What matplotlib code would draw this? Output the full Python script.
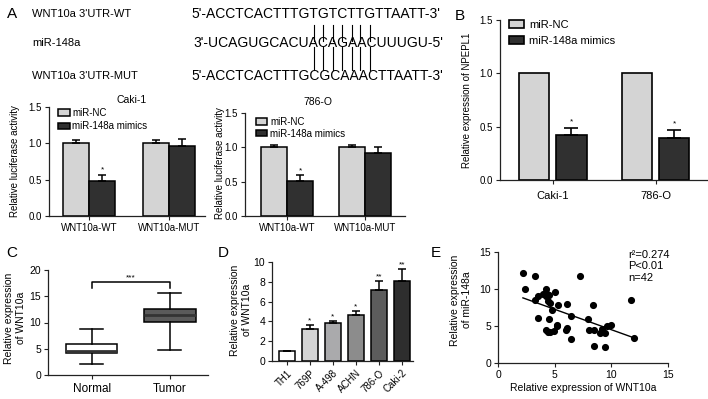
import numpy as np
import matplotlib
matplotlib.use("Agg")
import matplotlib.pyplot as plt

plt.rcParams['font.family'] = ['Liberation Sans', 'DejaVu Sans']

W, H = 708, 399

### Data ###
seq_labels = ["WNT10a 3'UTR-WT", "miR-148a", "WNT10a 3'UTR-MUT"]
seq_texts = ["5'-ACCTCACTTTGTGTCTTGTTAATT-3'",
             "3'-UCAGUGCACUACAGAACUUUGU-5'",
             "5'-ACCTCACTTTGCGCAAACTTAATT-3'"]
pair_first = 14  # first paired base in the UTR strings
mir_first = 13   # first paired base in the miRNA string
n_pairs = 7

luc_groups = ["WNT10a-WT", "WNT10a-MUT"]
caki_nc = [1.0, 1.0]
caki_nc_err = [0.05, 0.05]
caki_mim = [0.48, 0.97]
caki_mim_err = [0.08, 0.09]
o786_nc = [1.0, 1.0]
o786_nc_err = [0.04, 0.04]
o786_mim = [0.51, 0.92]
o786_mim_err = [0.08, 0.09]
luc_stars = ["*", ""]

npepl_cells = ["Caki-1", "786-O"]
npepl_nc = [1.0, 1.0]
npepl_mim = [0.42, 0.39]
npepl_mim_err = [0.07, 0.08]
npepl_stars = ["*", "*"]

box_groups = ["Normal", "Tumor"]
box_lo = [2.1, 4.8]
box_q1 = [4.2, 10.1]
box_med = [4.5, 11.4]
box_q3 = [5.9, 12.6]
box_hi = [8.8, 15.6]

cell_lines = ["TH1", "769P", "A-498", "ACHN", "786-O", "Caki-2"]
cell_expr = [1.0, 3.27, 3.8, 4.65, 7.2, 8.05]
cell_err = [0.0, 0.33, 0.27, 0.4, 0.9, 1.28]
cell_stars = ["", "*", "*", "*", "**", "**"]
cell_colors = ["#ffffff", "#d4d4d4", "#aaaaac", "#8c8c8c", "#5c5c5c", "#2e2e2e"]

wnt_x = [2.2, 3.3, 7.2, 2.4, 4.2, 5.0, 3.5, 3.3, 4.0, 4.3, 4.2, 4.5, 4.4, 4.6,
         5.3, 6.1, 4.8, 8.4, 11.7, 3.5, 4.5, 6.4, 7.9, 5.2, 5.2, 6.1, 6.0, 4.2,
         4.4, 4.6, 4.9, 8.0, 8.5, 9.0, 9.4, 9.2, 9.6, 10.0, 6.4, 8.5, 9.4, 12.0]
mir_y = [12.1, 11.8, 11.7, 10.0, 10.0, 9.6, 9.0, 8.5, 9.3, 9.3, 9.0, 9.2, 8.4, 8.1,
         7.9, 8.0, 7.2, 7.9, 8.5, 6.1, 6.0, 6.3, 6.0, 5.2, 5.0, 4.7, 4.5, 4.4,
         4.2, 4.2, 4.3, 4.4, 4.4, 4.0, 4.0, 4.6, 5.0, 5.2, 3.2, 2.3, 2.1, 3.4]
fit_x = [2.2, 12.0]
fit_y = [8.8, 3.4]
stats_text = "r\u00b2=0.274\nP<0.01\nn=42"

LIGHT = "#d4d4d4"
DARK = "#303030"

fig = plt.figure(figsize=(W / 100, H / 100), dpi=100)


def ftext(x, y, s, **kw):
    return fig.text(x / W, 1 - y / H, s, **kw)


def add_ax(x0, x1, ytop, ybot):
    ax = fig.add_axes([x0 / W, 1 - ybot / H, (x1 - x0) / W, (ybot - ytop) / H])
    ax.spines['top'].set_visible(False)
    ax.spines['right'].set_visible(False)
    for s in ['left', 'bottom']:
        ax.spines[s].set_linewidth(0.9)
        ax.spines[s].set_color('#222222')
    ax.tick_params(direction='out', length=3, width=0.8, labelsize=7, pad=2,
                   color='#222222')
    return ax


# panel letters
ftext(12, 14, "A", fontsize=11, ha='center', va='center')
ftext(460, 16, "B", fontsize=11, ha='center', va='center')
ftext(12, 253, "C", fontsize=11, ha='center', va='center')
ftext(223, 253, "D", fontsize=11, ha='center', va='center')
ftext(436, 253, "E", fontsize=11, ha='center', va='center')

### A: sequences ###
row_y = [14, 43, 76]
for lab, yy in zip(seq_labels, row_y):
    ftext(32, yy, lab, fontsize=8, va='center')
seq_art = [ftext(191, row_y[0], seq_texts[0], fontsize=10, va='center'),
           None,
           ftext(191, row_y[2], seq_texts[2], fontsize=10, va='center')]

fig.canvas.draw()
renderer = fig.canvas.get_renderer()
prop = seq_art[0].get_fontproperties()
x_start = seq_art[0].get_window_extent(renderer).x0


def tw(s):
    return renderer.get_text_width_height_descent(s, prop, ismath=False)[0]


def char_center(s, i):
    return (tw(s[:i]) + tw(s[:i + 1])) / 2


pair_x = [x_start + char_center(seq_texts[0], pair_first + k) for k in range(n_pairs)]
mir_x0 = pair_x[0] - char_center(seq_texts[1], mir_first)
ftext(mir_x0, row_y[1], seq_texts[1], fontsize=10, va='center')
for xp in pair_x:
    for y1, y2 in [(25, 41), (47, 70)]:
        fig.add_artist(plt.Line2D([xp / W, xp / W], [1 - y1 / H, 1 - y2 / H],
                                  transform=fig.transFigure, color='black', lw=0.8))


### A: luciferase bars ###
def luc_panel(ax, nc, nc_err, mim, mim_err, leg_anchor, leg_space):
    x = np.arange(len(luc_groups))
    w = 0.33
    ax.bar(x - w / 2, nc, w, color=LIGHT, edgecolor='black', lw=1.1,
           yerr=[np.zeros(len(nc)), nc_err], capsize=3,
           error_kw=dict(lw=1.1, capthick=1.1), label='miR-NC')
    ax.bar(x + w / 2, mim, w, color=DARK, edgecolor='black', lw=1.1,
           yerr=[np.zeros(len(mim)), mim_err], capsize=3,
           error_kw=dict(lw=1.1, capthick=1.1), label='miR-148a mimics')
    for i, st in enumerate(luc_stars):
        if st:
            ax.text(x[i] + w / 2, mim[i] + mim_err[i] + 0.02, st, fontsize=6,
                    ha='center', va='bottom')
    ax.set_ylim(0, 1.5)
    ax.set_yticks([0, 0.5, 1.0, 1.5])
    ax.set_yticklabels(['0.0', '0.5', '1.0', '1.5'])
    ax.set_xticks(x)
    ax.set_xticklabels(luc_groups)
    ax.legend(loc='upper left', bbox_to_anchor=leg_anchor, frameon=False,
              fontsize=7, handlelength=1.15, handleheight=0.65, handletextpad=0.3,
              labelspacing=leg_space, borderaxespad=0, borderpad=0)


axA1 = add_ax(49, 205, 107, 216)
luc_panel(axA1, caki_nc, caki_nc_err, caki_mim, caki_mim_err, (0.06, 0.99), 0.35)
axA1.set_xlim(-0.5, 1.45)
ftext(132, 100, "Caki-1", fontsize=7.5, ha='center', va='center')
ftext(15, 161, "Relative luciferase activity", fontsize=7, rotation=90,
      ha='center', va='center')

axA2 = add_ax(245, 405, 113, 216)
luc_panel(axA2, o786_nc, o786_nc_err, o786_mim, o786_mim_err, (0.07, 0.96), 0.15)
axA2.set_xlim(-0.54, 1.51)
ftext(318, 102, "786-O", fontsize=7.5, ha='center', va='center')
ftext(220, 163, "Relative luciferase activity", fontsize=7, rotation=90,
      ha='center', va='center')

### B ###
axB = add_ax(500, 707, 20, 180)
xb = np.arange(len(npepl_cells))
wb = 0.30
axB.bar(xb - 0.18, npepl_nc, wb, color=LIGHT, edgecolor='black', lw=1.2,
        label='miR-NC')
axB.bar(xb + 0.18, npepl_mim, wb, color=DARK, edgecolor='black', lw=1.2,
        yerr=[np.zeros(len(npepl_mim)), npepl_mim_err], capsize=5,
        error_kw=dict(lw=1.2, capthick=1.2), label='miR-148a mimics')
for i, st in enumerate(npepl_stars):
    axB.text(xb[i] + 0.18, npepl_mim[i] + npepl_mim_err[i] + 0.02, st,
             fontsize=6, ha='center', va='bottom')
axB.set_ylim(0, 1.5)
axB.set_xlim(-0.51, 1.5)
axB.set_yticks([0, 0.5, 1.0, 1.5])
axB.set_yticklabels(['0.0', '0.5', '1.0', '1.5'])
axB.set_xticks(xb)
axB.set_xticklabels(npepl_cells, fontsize=8)
axB.tick_params(axis='x', pad=5)
axB.legend(loc='upper left', bbox_to_anchor=(0.045, 1.0), frameon=False,
           fontsize=8, handlelength=1.36, handleheight=0.7, handletextpad=0.4,
           labelspacing=0.5, borderaxespad=0, borderpad=0)
ftext(467, 100, "Relative expression of NPEPL1", fontsize=7, rotation=90,
      ha='center', va='center')

### C ###
axC = add_ax(48, 208, 270, 375)
stats = []
for i, g in enumerate(box_groups):
    stats.append(dict(label=g, whislo=box_lo[i], q1=box_q1[i], med=box_med[i],
                      q3=box_q3[i], whishi=box_hi[i], fliers=[]))
bp = axC.bxp(stats, positions=[0, 1], widths=0.66, patch_artist=True,
             capwidths=0.3,
             boxprops=dict(lw=1.1, edgecolor='black'),
             whiskerprops=dict(lw=1.1), capprops=dict(lw=1.1),
             medianprops=dict(color='#333333', lw=2))
bp['boxes'][0].set_facecolor('white')
bp['boxes'][1].set_facecolor('#5a5a5a')
axC.set_xlim(-0.56, 1.49)
axC.set_ylim(0, 20)
axC.set_yticks([0, 5, 10, 15, 20])
axC.tick_params(axis='x', labelsize=8.5, pad=3)
axC.tick_params(axis='y', labelsize=7.5)
axC.plot([0, 0, 1, 1], [16.6, 17.7, 17.7, 16.6], color='black', lw=1.1)
axC.text(0.5, 17.8, "***", fontsize=6, ha='center', va='bottom')
ftext(15, 318, "Relative expression\nof WNT10a", fontsize=7.5, rotation=90,
      ha='center', va='center', linespacing=1.3)

### D ###
axD = add_ax(272, 413, 262, 361)
xd = np.arange(len(cell_lines))
axD.bar(xd, cell_expr, 0.7, color=cell_colors, edgecolor='black', lw=1.1,
        yerr=[np.zeros(len(cell_err)), cell_err], capsize=3,
        error_kw=dict(lw=1.1, capthick=1.1))
for i, st in enumerate(cell_stars):
    if st:
        axD.text(xd[i], cell_expr[i] + cell_err[i] + 0.05, st, fontsize=6,
                 ha='center', va='bottom')
axD.set_xlim(-0.65, 5.48)
axD.set_ylim(0, 10)
axD.set_yticks([0, 2, 4, 6, 8, 10])
axD.set_xticks(xd)
axD.set_xticklabels(cell_lines, rotation=45, ha='right', rotation_mode='anchor',
                    fontsize=7)
axD.tick_params(axis='y', labelsize=7.5)
ftext(241, 310, "Relative expression\nof WNT10a", fontsize=7.5, rotation=90,
      ha='center', va='center', linespacing=1.3)

### E ###
axE = add_ax(498, 668, 252, 363)
axE.scatter(wnt_x, mir_y, s=17, color='black', zorder=3)
axE.plot(fit_x, fit_y, color='black', lw=1)
axE.set_xlim(0, 15)
axE.set_ylim(0, 15)
axE.set_xticks([0, 5, 10, 15])
axE.set_yticks([0, 5, 10, 15])
axE.tick_params(labelsize=7.5)
axE.set_xlabel("Relative expression of WNT10a", fontsize=7.5, labelpad=2)
axE.text(11.5, 15.3, stats_text, fontsize=8, ha='left', va='top', linespacing=1.2)
ftext(461, 300, "Relative expression\nof miR-148a", fontsize=7.5, rotation=90,
      ha='center', va='center', linespacing=1.3)

fig.savefig("out.png", dpi=100)
